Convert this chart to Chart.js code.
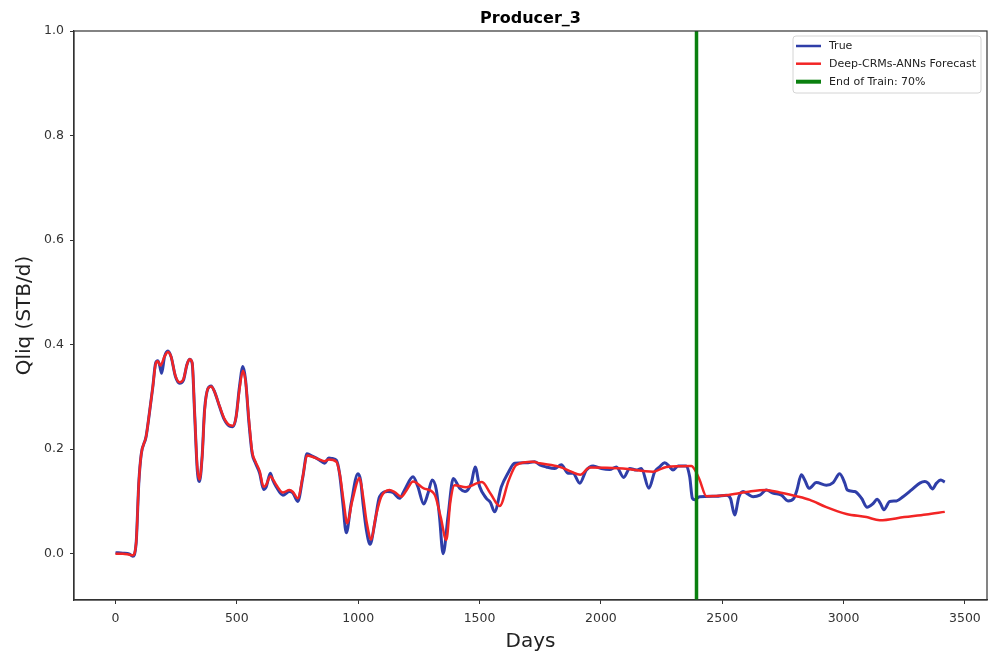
<!DOCTYPE html>
<html>
<head>
<meta charset="utf-8">
<script src="https://cdn.jsdelivr.net/npm/chart.js@4.4.1/dist/chart.umd.min.js"></script>
<style>
  html, body { margin: 0; padding: 0; background: #ffffff; }
  #wrap { width: 998px; height: 657px; position: relative; }
</style>
</head>
<body>
<div id="wrap"><canvas id="c" width="998" height="657"></canvas></div>
<script>
// Producer_3 liquid rate: observed vs. Deep-CRMs-ANNs forecast
const trueDays = [0, 30, 58, 71, 85, 96, 106, 126, 140, 154, 165, 174, 181, 190, 202, 216, 229, 247, 264, 280,
  294, 305, 316, 326, 337, 346, 357, 367, 381, 394, 408, 429, 449, 470, 484, 497, 511, 525, 536, 550,
  563, 577, 594, 610, 621, 638, 648, 662, 690, 717, 731, 751, 772, 789, 813, 841, 861, 879, 895, 910,
  923, 937, 951, 971, 999, 1010, 1020, 1034, 1049, 1068, 1088, 1122, 1143, 1171, 1191, 1226, 1246, 1270, 1288, 1305,
  1322, 1335, 1350, 1370, 1392, 1418, 1440, 1466, 1482, 1500, 1528, 1545, 1562, 1590, 1617, 1645, 1693, 1727, 1748, 1775,
  1810, 1837, 1865, 1885, 1913, 1940, 1968, 2002, 2036, 2064, 2094, 2119, 2146, 2167, 2198, 2222, 2242, 2263, 2284, 2297,
  2318, 2352, 2366, 2377, 2387, 2407, 2476, 2517, 2534, 2551, 2569, 2586, 2606, 2627, 2655, 2682, 2709, 2744, 2771, 2795,
  2808, 2826, 2840, 2858, 2888, 2929, 2957, 2984, 3005, 3015, 3046, 3074, 3097, 3122, 3138, 3152, 3166, 3190, 3218, 3245,
  3280, 3314, 3335, 3348, 3366, 3383, 3401, 3417];
const trueRate = [0.002, 0.001, -0.001, -0.005, 0.02, 0.135, 0.19, 0.224, 0.27, 0.32, 0.364, 0.369, 0.362, 0.345, 0.377, 0.388, 0.377, 0.339, 0.326, 0.332,
  0.361, 0.372, 0.364, 0.269, 0.16, 0.138, 0.186, 0.275, 0.316, 0.321, 0.31, 0.281, 0.256, 0.244, 0.243, 0.262, 0.32, 0.358, 0.332, 0.25,
  0.192, 0.173, 0.154, 0.123, 0.128, 0.154, 0.141, 0.128, 0.112, 0.119, 0.116, 0.1, 0.147, 0.191, 0.186, 0.179, 0.173, 0.183, 0.182, 0.179,
  0.154, 0.096, 0.04, 0.096, 0.153, 0.14, 0.096, 0.045, 0.018, 0.058, 0.109, 0.119, 0.117, 0.106, 0.122, 0.147, 0.128, 0.095, 0.116, 0.141,
  0.122, 0.071, 0.0, 0.071, 0.144, 0.125, 0.119, 0.135, 0.166, 0.129, 0.106, 0.098, 0.08, 0.128, 0.154, 0.173, 0.174, 0.176, 0.17, 0.166,
  0.163, 0.17, 0.154, 0.154, 0.135, 0.16, 0.168, 0.163, 0.161, 0.166, 0.146, 0.163, 0.16, 0.163, 0.125, 0.157, 0.166, 0.174, 0.166, 0.16,
  0.168, 0.168, 0.147, 0.106, 0.103, 0.109, 0.11, 0.112, 0.106, 0.074, 0.109, 0.119, 0.114, 0.109, 0.112, 0.122, 0.116, 0.112, 0.101, 0.106,
  0.122, 0.151, 0.141, 0.125, 0.136, 0.131, 0.136, 0.153, 0.135, 0.122, 0.119, 0.106, 0.089, 0.096, 0.104, 0.096, 0.084, 0.1, 0.101, 0.109,
  0.122, 0.135, 0.138, 0.135, 0.124, 0.135, 0.141, 0.137];

const fcDays = [0, 30, 58, 71, 85, 96, 106, 126, 140, 154, 165, 174, 185, 202, 216, 229, 247, 264, 280, 294,
  305, 316, 326, 337, 346, 357, 367, 381, 394, 408, 429, 449, 470, 484, 497, 511, 525, 536, 550, 563,
  577, 594, 610, 621, 638, 648, 662, 690, 717, 731, 751, 772, 789, 813, 841, 861, 879, 910, 925, 940,
  955, 975, 1006, 1020, 1035, 1054, 1072, 1095, 1129, 1150, 1178, 1200, 1226, 1270, 1315, 1340, 1363, 1380, 1397, 1445,
  1490, 1510, 1545, 1583, 1620, 1652, 1720, 1748, 1830, 1878, 1915, 1954, 2091, 2215, 2270, 2373, 2387, 2407, 2435, 2517,
  2600, 2680, 2737, 2806, 2861, 2929, 3012, 3094, 3149, 3250, 3340, 3417];
const fcRate = [0.0, 0.0, -0.002, -0.003, 0.02, 0.135, 0.19, 0.224, 0.27, 0.32, 0.362, 0.368, 0.36, 0.377, 0.386, 0.377, 0.34, 0.328, 0.334, 0.361,
  0.372, 0.366, 0.27, 0.165, 0.142, 0.185, 0.272, 0.316, 0.32, 0.31, 0.282, 0.258, 0.246, 0.245, 0.262, 0.315, 0.35, 0.33, 0.255, 0.195,
  0.176, 0.158, 0.128, 0.132, 0.148, 0.143, 0.132, 0.117, 0.122, 0.118, 0.106, 0.148, 0.188, 0.185, 0.18, 0.177, 0.18, 0.176, 0.15, 0.1,
  0.058, 0.1, 0.145, 0.11, 0.06, 0.027, 0.07, 0.109, 0.122, 0.118, 0.109, 0.122, 0.138, 0.125, 0.113, 0.07, 0.026, 0.1, 0.131, 0.127,
  0.135, 0.137, 0.115, 0.091, 0.14, 0.17, 0.176, 0.173, 0.166, 0.157, 0.151, 0.165, 0.163, 0.157, 0.166, 0.168, 0.161, 0.141, 0.11, 0.112,
  0.118, 0.122, 0.117, 0.11, 0.103, 0.089, 0.076, 0.07, 0.064, 0.07, 0.075, 0.08];

const trainEndDay = 2394;           // 70% of the history
const dayTicks = [0, 500, 1000, 1500, 2000, 2500, 3000, 3500];
const rateTicks = [0.0, 0.2, 0.4, 0.6, 0.8, 1.0];
const dayRange = [-171, 3591];
const rateRange = [-0.0886, 1.0];

const seriesLabels = ['True', 'Deep-CRMs-ANNs Forecast', 'End of Train: 70%'];

const toPoints = (xs, ys) => xs.map((x, i) => ({ x: x, y: ys[i] }));

const BLUE = '#2f3ea8';
const RED = '#f22525';
const GREEN = '#0a800f';
const INK = '#333333';
const FONT = "'DejaVu Sans', 'Liberation Sans', sans-serif";

// Frame, title, axis titles and legend box
const decorations = {
  id: 'decorations',
  afterDraw(chart) {
    const ctx = chart.ctx;
    const a = chart.chartArea;
    ctx.save();
    // four-sided frame
    ctx.strokeStyle = INK;
    ctx.lineWidth = 1.2;
    ctx.strokeRect(a.left, a.top, a.right - a.left, a.bottom - a.top);

    ctx.fillStyle = '#000000';
    ctx.textAlign = 'center';
    ctx.textBaseline = 'alphabetic';
    ctx.font = 'bold 16px ' + FONT;
    ctx.fillText('Producer_3', (a.left + a.right) / 2, 23);

    ctx.fillStyle = '#222222';
    ctx.font = '20px ' + FONT;
    ctx.fillText('Days', (a.left + a.right) / 2, 647);

    ctx.save();
    ctx.translate(25, (a.top + a.bottom) / 2);
    ctx.rotate(-Math.PI / 2);
    ctx.textBaseline = 'middle';
    ctx.fillText('Qliq (STB/d)', 0, 0);
    ctx.restore();

    // legend
    const bx = 793, by = 36, bw = 188, bh = 57;
    ctx.beginPath();
    ctx.roundRect(bx, by, bw, bh, 3);
    ctx.fillStyle = 'rgba(255,255,255,0.85)';
    ctx.fill();
    ctx.strokeStyle = '#d4d4d4';
    ctx.lineWidth = 1;
    ctx.stroke();

    const rows = [46, 63.7, 81.7];
    ctx.font = '11px ' + FONT;
    ctx.textAlign = 'left';
    ctx.textBaseline = 'middle';
    chart.data.datasets.forEach((ds, i) => {
      ctx.strokeStyle = ds.borderColor;
      ctx.lineWidth = ds.legendWidth;
      ctx.beginPath();
      ctx.moveTo(796, rows[i]);
      ctx.lineTo(821, rows[i]);
      ctx.stroke();
      ctx.fillStyle = '#222222';
      ctx.fillText(ds.label, 829, rows[i] + 0.5);
    });
    ctx.restore();
  }
};

new Chart(document.getElementById('c'), {
  type: 'line',
  data: {
    datasets: [
      {
        label: seriesLabels[0],
        data: toPoints(trueDays, trueRate),
        borderColor: BLUE,
        borderWidth: 3,
        legendWidth: 2.5,
        pointRadius: 0,
        cubicInterpolationMode: 'monotone',
        order: 3
      },
      {
        label: seriesLabels[1],
        data: toPoints(fcDays, fcRate),
        borderColor: RED,
        borderWidth: 2.5,
        legendWidth: 2.5,
        pointRadius: 0,
        cubicInterpolationMode: 'monotone',
        order: 2
      },
      {
        label: seriesLabels[2],
        data: [{ x: trainEndDay, y: rateRange[0] }, { x: trainEndDay, y: rateRange[1] }],
        borderColor: GREEN,
        borderWidth: 3.5,
        legendWidth: 4,
        pointRadius: 0,
        order: 1
      }
    ]
  },
  options: {
    responsive: false,
    animation: false,
    devicePixelRatio: 1,
    layout: { padding: { top: 31, right: 11, left: 0, bottom: 0 } },
    plugins: {
      legend: { display: false },
      tooltip: { enabled: false },
      title: { display: false }
    },
    scales: {
      x: {
        type: 'linear',
        min: dayRange[0],
        max: dayRange[1],
        afterFit: s => { s.height = 57; },
        afterBuildTicks: s => { s.ticks = dayTicks.map(v => ({ value: v })); },
        ticks: {
          callback: v => String(v),
          font: { family: FONT, size: 12.5 },
          color: INK,
          padding: 7,
          maxRotation: 0,
          autoSkip: false
        },
        grid: { display: true, drawOnChartArea: false, drawTicks: true, tickLength: 4, color: INK },
        border: { display: true, color: INK, width: 1.2 }
      },
      y: {
        type: 'linear',
        min: rateRange[0],
        max: rateRange[1],
        afterFit: s => { s.width = 74; },
        afterBuildTicks: s => { s.ticks = rateTicks.map(v => ({ value: v })); },
        ticks: {
          callback: v => Number(v).toFixed(1),
          font: { family: FONT, size: 12.5 },
          color: INK,
          padding: 6,
          autoSkip: false
        },
        grid: { display: true, drawOnChartArea: false, drawTicks: true, tickLength: 4, color: INK },
        border: { display: true, color: INK, width: 1.2 }
      }
    }
  },
  plugins: [decorations]
});
</script>
</body>
</html>
